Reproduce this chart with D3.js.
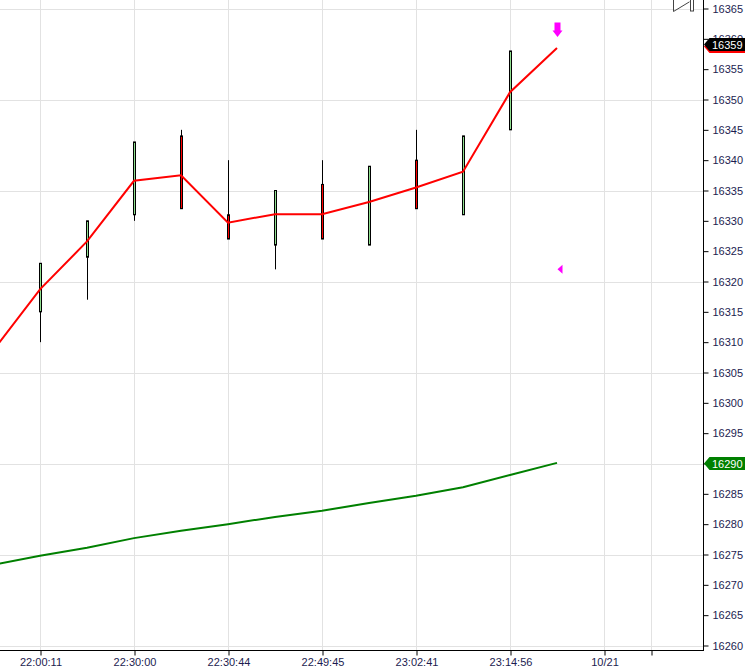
<!DOCTYPE html>
<html>
<head>
<meta charset="utf-8">
<script src="https://cdn.jsdelivr.net/npm/d3@7"></script>
<style>
  body { margin: 0; background: #fff; }
  text { font-family: "Liberation Sans", Arial, sans-serif; }
</style>
</head>
<body>
<div id="chart"></div>
<script>
// bar data (index 0 = first bar on screen)
var barIdx = [0, 1, 2, 3, 4, 5, 6, 7, 8, 9, 10, 11];
var opens  = [16315, 16324, 16331, 16344, 16331, 16326, 16336, 16326, 16340, 16331, 16345, 16359];
var highs  = [16323, 16330, 16343, 16345, 16340, 16335, 16340, 16339, 16345, 16344, 16358, 16359];
var lows   = [16310, 16317, 16330, 16332, 16327, 16322, 16327, 16326, 16332, 16331, 16345, 16359];
var closes = [16323, 16330, 16343, 16332, 16327, 16335, 16327, 16339, 16332, 16344, 16358, 16359];

// indicator lines, index -1 is the bar just off the left edge
var maIdx   = [-1, 0, 1, 2, 3, 4, 5, 6, 7, 8, 9, 10, 11];
var fastMA  = [16308.6, 16318.7, 16326.6, 16336.6, 16337.5, 16329.7, 16331.1, 16331.1, 16333.1, 16335.5, 16338.1, 16351.2, 16358.5];
var slowMA  = [16273.3, 16274.8, 16276.1, 16277.7, 16278.9, 16280.0, 16281.2, 16282.2, 16283.5, 16284.7, 16286.1, 16288.1, 16290.1];

// x axis ticks
var xTickIdx    = [0, 2, 4, 6, 8, 10, 12, 13];
var xTickLabels = ["22:00:11", "22:30:00", "22:30:44", "22:49:45", "23:02:41", "23:14:56", "10/21", ""];

// price axis
var yTicks = d3.range(16260, 16366, 5);
var yGrid  = d3.range(16260, 16366, 15);

// signals
var signalBar   = 11;
var markerPrice = 16322;
var lastPrice   = 16359;
var maPrice     = 16290;

var W = 753, H = 671,
    plotW = 703, plotH = 650;

var xScale = d3.scaleLinear().domain([0, 13]).range([40, 651]),
    yScale = d3.scaleLinear().domain([16260, 16365]).range([645.5, 8.5]);

var svg = d3.select("#chart").append("svg")
  .attr("width", W)
  .attr("height", H);

svg.append("defs").append("clipPath").attr("id", "plotClip")
  .append("rect").attr("x", 0).attr("y", 0).attr("width", plotW).attr("height", plotH);

// grid
var grid = svg.append("g").attr("class", "grid");
grid.selectAll("line.h").data(yGrid).enter().append("line")
  .attr("x1", 0).attr("x2", plotW)
  .attr("y1", function(d) { return Math.round(yScale(d)) + 0.5; })
  .attr("y2", function(d) { return Math.round(yScale(d)) + 0.5; })
  .attr("stroke", "#e2e2e2");
grid.selectAll("line.v").data(xTickIdx).enter().append("line")
  .attr("x1", function(d) { return xScale(d) + 0.5; })
  .attr("x2", function(d) { return xScale(d) + 0.5; })
  .attr("y1", 0).attr("y2", plotH)
  .attr("stroke", "#e2e2e2");

var plot = svg.append("g").attr("clip-path", "url(#plotClip)");

// wicks
plot.selectAll("line.wick").data(barIdx).enter().append("line")
  .attr("x1", function(i) { return xScale(i) + 0.5; })
  .attr("x2", function(i) { return xScale(i) + 0.5; })
  .attr("y1", function(i) { return yScale(highs[i]); })
  .attr("y2", function(i) { return yScale(lows[i]); })
  .attr("stroke", "#000");

// bodies
plot.selectAll("rect.body").data(barIdx).enter().append("rect")
  .attr("x", function(i) { return xScale(i) - 0.5; })
  .attr("width", 2)
  .attr("y", function(i) { return yScale(Math.max(opens[i], closes[i])); })
  .attr("height", function(i) { return Math.abs(yScale(opens[i]) - yScale(closes[i])); })
  .attr("fill", function(i) { return closes[i] > opens[i] ? "#90e090" : (closes[i] < opens[i] ? "#ff0000" : "#000"); })
  .attr("stroke", "#000")
  .attr("stroke-width", 1);

// moving averages
var maLine = function(vals) {
  return d3.line()
    .x(function(i, k) { return xScale(i); })
    .y(function(i, k) { return yScale(vals[k]); })(maIdx);
};
plot.append("path").attr("d", maLine(slowMA))
  .attr("fill", "none").attr("stroke", "#008000").attr("stroke-width", 2);
plot.append("path").attr("d", maLine(fastMA))
  .attr("fill", "none").attr("stroke", "#ff0000").attr("stroke-width", 2);

// signal arrow above last bar
var ax = xScale(signalBar) + 0.5, ay = yScale(highs[signalBar]) - 8.5;
plot.append("path")
  .attr("d", "M" + (ax - 3) + "," + (ay - 14) + "h6v8h2l-5,6.5l-5,-6.5h2z")
  .attr("fill", "#ff00ff");

// small marker triangle
var mx = xScale(signalBar) + 0.5, my = yScale(markerPrice);
plot.append("path")
  .attr("d", "M" + mx + "," + my + "L" + (mx + 5) + "," + (my - 4.5) + "L" + (mx + 5) + "," + (my + 4.5) + "Z")
  .attr("fill", "#ff00ff");

// scroll button remnant in the top right corner
svg.append("path")
  .attr("d", "M673.5,-8L673.5,11.5L689.5,1.8")
  .attr("fill", "none").attr("stroke", "#444");
svg.append("rect")
  .attr("x", 690.5).attr("y", -4).attr("width", 3).attr("height", 15)
  .attr("fill", "#fff").attr("stroke", "#444");

// Add the X Axis
var xAxis = d3.axisBottom(xScale)
  .tickValues(xTickIdx)
  .tickFormat(function(d, k) { return xTickLabels[k]; })
  .tickSize(5).tickSizeOuter(0).tickPadding(3);
var xAxisEl = svg.append("g")
  .attr("transform", "translate(0.5," + (plotH + 0.5) + ")")
  .call(xAxis);
xAxisEl.select(".domain").remove();
xAxisEl.selectAll("text").attr("font-size", 11).attr("fill", "#1c1c50").style("font-family", "'Liberation Sans', Arial, sans-serif");

// Add the Y Axis
var yAxis = d3.axisRight(yScale)
  .tickValues(yTicks)
  .tickFormat(d3.format("d"))
  .tickSize(5).tickSizeOuter(0).tickPadding(4);
var yAxisEl = svg.append("g")
  .attr("transform", "translate(" + (plotW + 0.5) + ",0)")
  .call(yAxis);
yAxisEl.select(".domain").remove();
yAxisEl.selectAll("text").attr("font-size", 11).attr("fill", "#1c1c50").style("font-family", "'Liberation Sans', Arial, sans-serif");

// axis lines
svg.append("line").attr("x1", 0).attr("x2", plotW + 1)
  .attr("y1", plotH + 0.5).attr("y2", plotH + 0.5).attr("stroke", "#000");
svg.append("line").attr("x1", plotW + 0.5).attr("x2", plotW + 0.5)
  .attr("y1", 0).attr("y2", plotH + 1).attr("stroke", "#000");

// price tags on the axis
function priceTag(price, fill, shadow) {
  var cy = Math.round(yScale(price)) - 0.5;
  var pts = [[704, cy], [709.5, cy - 6.5], [745, cy - 6.5], [745, cy + 6.5], [709.5, cy + 6.5]];
  var g = svg.append("g");
  if (shadow) {
    g.append("polygon")
      .attr("points", pts.map(function(p) { return p[0] + "," + (p[1] + 2); }).join(" "))
      .attr("fill", shadow);
  }
  g.append("polygon")
    .attr("points", pts.map(function(p) { return p.join(","); }).join(" "))
    .attr("fill", fill);
  g.append("text")
    .attr("x", 712).attr("y", cy + 4)
    .attr("font-size", 11).attr("fill", "#fff")
    .text(d3.format("d")(price));
}
priceTag(lastPrice, "#000", "#ff0000");
priceTag(maPrice, "#008000", null);
</script>
</body>
</html>
